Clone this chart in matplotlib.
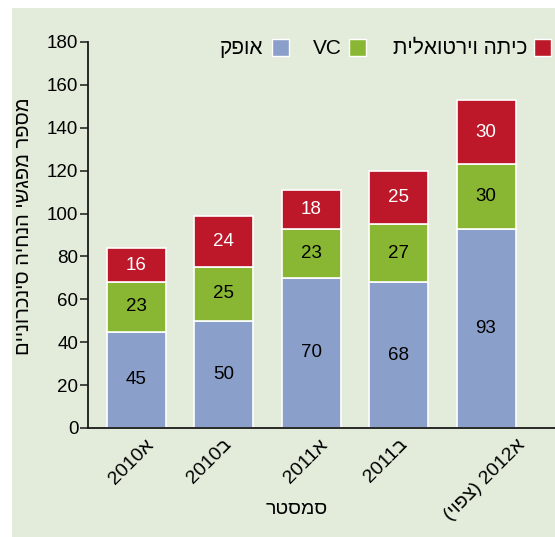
import re
import numpy as np
import matplotlib
matplotlib.use("Agg")
import matplotlib.pyplot as plt
from matplotlib.patches import Rectangle
from matplotlib.transforms import ScaledTranslation

plt.rcParams['font.family'] = ['Liberation Sans', 'DejaVu Sans']

# ---- data ----
categories = ["א2010", "ב2010", "א2011", "ב2011", "א2012 (צפוי)"]
ofek = [45, 50, 70, 68, 93]
vc = [23, 25, 23, 27, 30]
virtual_class = [16, 24, 18, 25, 30]
series_names = ["אופק", "VC", "כיתה וירטואלית"]
y_ticks = [0, 20, 40, 60, 80, 100, 120, 140, 160, 180]
y_label = "מספר מפגשי הנחיה סינכרוניים"
x_label = "סמסטר"

colors = ["#8a9fc9", "#8ab733", "#bc1829"]
text_colors = ["black", "black", "white"]
bg = "#e3ebda"


def visual(s):
    """Simple RTL reordering for display (matplotlib has no bidi)."""
    tokens = re.findall(r'[0-9A-Za-z.]+|[^0-9A-Za-z.]', s)
    mirror = {'(': ')', ')': '('}
    return ''.join(mirror.get(t, t) for t in reversed(tokens))


W, H = 555, 537
fig = plt.figure(figsize=(W / 100, H / 100), dpi=100)
fig.patch.set_facecolor("white")


def fx(px):
    return px / W


def fy(py):
    return 1 - py / H


# panel background
fig.add_artist(Rectangle((fx(12), 0), fx(W) - fx(12), fy(8), transform=fig.transFigure,
                         facecolor=bg, edgecolor="none", zorder=-10))

ax_l, ax_r, ax_t, ax_b = 88, 555, 42, 428
ax = fig.add_axes([fx(ax_l), fy(ax_b), fx(ax_r - ax_l), (ax_b - ax_t) / H])
ax.set_facecolor("none")

x = np.arange(len(categories))
spacing = 87.5
x0 = -(136 - ax_l) / spacing
ax.set_xlim(x0, x0 + (ax_r - ax_l) / spacing)
ax.set_ylim(0, 180)
width = 59 / spacing

bottom = np.zeros(len(categories))
for vals, col, tcol in zip([ofek, vc, virtual_class], colors, text_colors):
    vals = np.array(vals, dtype=float)
    ax.bar(x, vals, width=width, bottom=bottom, color=col, edgecolor="white",
           linewidth=1.2, zorder=2)
    for xi, b, v in zip(x, bottom, vals):
        ax.text(xi, b + v / 2, f"{int(v)}", ha="center", va="center",
                fontsize=13.5, color=tcol, zorder=3)
    bottom += vals

for side in ["top", "right"]:
    ax.spines[side].set_visible(False)
for side in ["left", "bottom"]:
    ax.spines[side].set_linewidth(1.3)
    ax.spines[side].set_color("#1a1a1a")

ax.set_yticks(y_ticks)
ax.set_yticklabels([str(t) for t in y_ticks], fontsize=13.5)
ax.tick_params(axis="y", length=5.5, width=1.1, pad=1.5, color="#1a1a1a")
ax.tick_params(axis="x", length=0, pad=0)
ax.set_xticks(x)
labels = ax.set_xticklabels([visual(c) for c in categories], fontsize=14,
                            rotation=45, ha="right", va="center",
                            rotation_mode="anchor")
label_dx = [15, 5, 14, 6, 37]
for lab, dx in zip(labels, label_dx):
    off = ScaledTranslation(dx / 100, -14 / 100, fig.dpi_scale_trans)
    lab.set_transform(lab.get_transform() + off)

# axis titles
fig.text(fx(24), fy(226), visual(y_label), rotation=90, ha="center", va="center",
         fontsize=14.5)
fig.text(fx(297), fy(509), visual(x_label), ha="center", va="center", fontsize=14)

# legend (RTL: box on the right of text)
legend_boxes = [(272, 263), (349, 342), (534, 527)]
for (bx, tx), name, col in zip(legend_boxes, series_names, colors):
    fig.add_artist(Rectangle((fx(bx), fy(56)), fx(17), 17 / H, transform=fig.transFigure,
                             facecolor=col, edgecolor="white", linewidth=1.0))
    fig.text(fx(tx), fy(48.5), visual(name), ha="right", va="center", fontsize=15)

fig.savefig("out.png", dpi=100, facecolor="white")
